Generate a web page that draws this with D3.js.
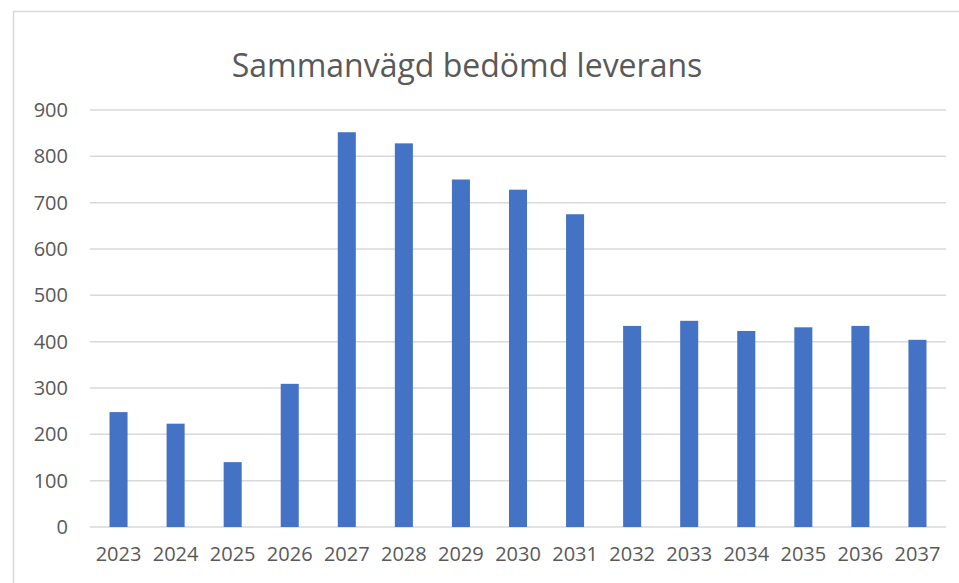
<!DOCTYPE html>
<html>
<head>
<meta charset="utf-8">
<script src="https://cdn.jsdelivr.net/npm/d3@7"></script>
<style>
  body { margin: 0; background: #fff; }
  svg text { font-family: "Open Sans", sans-serif; fill: #595959; }
</style>
</head>
<body>
<svg id="chart" width="959" height="583"></svg>
<script>
// chart data
const years = ["2023","2024","2025","2026","2027","2028","2029","2030","2031","2032","2033","2034","2035","2036","2037"];
const leverans = [248, 223, 140, 309, 852, 828, 750, 728, 675, 434, 445, 423, 431, 434, 404];
const yTicks = [0, 100, 200, 300, 400, 500, 600, 700, 800, 900];
const chartTitle = "Sammanvägd bedömd leverans";

// build the chart
function buildChart() {
  let svg = d3.select("#chart");
  let margin = {top: 110, right: 13, bottom: 56, left: 90};
  let width = 959, height = 583;

  // chart area border
  svg.append("rect")
      .attr("x", 13.5).attr("y", 11.5)
      .attr("width", 970).attr("height", 600)
      .attr("fill", "none")
      .attr("stroke", "#d9d9d9")
      .attr("stroke-width", 1.5);

  let x = d3.scaleBand()
      .domain(years)
      .range([margin.left, width - margin.right])
      .paddingInner(0.684)
      .paddingOuter(0.342);

  let y = d3.scaleLinear()
      .domain([0, 900])
      .range([height - margin.bottom, margin.top]);

  // gridlines
  svg.append("g")
      .attr("class", "grid")
    .selectAll("line")
    .data(yTicks)
    .enter().append("line")
      .attr("x1", margin.left)
      .attr("x2", width - margin.right)
      .attr("y1", function(d){ return y(d); })
      .attr("y2", function(d){ return y(d); })
      .attr("stroke", "#d9d9d9")
      .attr("stroke-width", 1.5);

  // bars
  svg.append("g")
    .selectAll("rect")
    .data(leverans)
    .enter().append("rect")
      .attr("x", function(d,i){ return x(years[i]); })
      .attr("width", x.bandwidth())
      .attr("y", function(d){ return y(d); })
      .attr("height", function(d){ return y(0) - y(d); })
      .attr("fill", "#4472c4");

  // y axis labels
  let yAxis = d3.axisLeft(y).tickValues(yTicks).tickSize(0).tickPadding(0);
  svg.append("g")
      .attr("transform", "translate(68,0)")
      .call(yAxis)
      .call(function(g){ g.select(".domain").remove(); })
      .selectAll("text")
      .attr("font-size", "20px")
      .attr("font-family", "Open Sans, sans-serif")
      .attr("fill", "#595959");

  // x axis labels
  let xAxis = d3.axisBottom(x).tickSize(0).tickPadding(0);
  svg.append("g")
      .attr("transform", "translate(0," + (y(0) + 20) + ")")
      .call(xAxis)
      .call(function(g){ g.select(".domain").remove(); })
      .selectAll("text")
      .attr("font-size", "20px")
      .attr("font-family", "Open Sans, sans-serif")
      .attr("fill", "#595959");

  // title
  svg.append("text")
      .attr("x", 467)
      .attr("y", 77)
      .attr("text-anchor", "middle")
      .attr("font-size", "32px")
      .text(chartTitle);
}

buildChart();
</script>
</body>
</html>
